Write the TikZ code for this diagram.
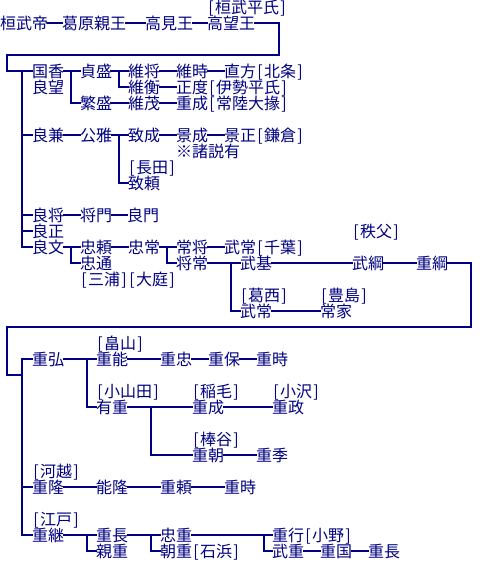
\documentclass[tikz,border=0pt]{standalone}
\usepackage{fontspec}
\setmainfont{Noto Sans CJK JP}
\definecolor{navy}{RGB}{0,0,128}
\newcommand{\LB}{\makebox[8pt][c]{[}}
\newcommand{\RB}{\makebox[8pt][c]{]}}
\begin{document}
\begin{tikzpicture}[x=1pt,y=-1pt,
  n/.style={anchor=west, inner sep=0pt, text height=14pt, text depth=2pt,
    text=navy, font=\fontsize{16pt}{16pt}\selectfont},
  ln/.style={draw=navy, line width=2pt, line join=miter, line cap=rect}]
\useasboundingbox (0,0) rectangle (480,576);
% row 0-1
\node[n] (heishi) at (207,7) {\LB 桓武平氏\RB};
\node[n] (kanmu) at (0,23) {桓武帝};
\node[n] (kazu) at (62,23) {葛原親王};
\node[n] (takami) at (145,23) {高見王};
\node[n] (takamochi) at (207,23) {高望王};
% 国香 line
\node[n] (kunika) at (32,71) {国香};
\node[n] (sadamori) at (80,71) {貞盛};
\node[n] (koremasa) at (128,71) {維将};
\node[n] (koretoki) at (176,71) {維時};
\node[n] (naokata) at (224,71) {直方\LB 北条\RB};
\node[n] (yoshimochi) at (32,87) {良望};
\node[n] (korehira) at (128,87) {維衡};
\node[n] (masanori) at (176,87) {正度\LB 伊勢平氏\RB};
\node[n] (shigemori) at (80,103) {繁盛};
\node[n] (koremochi) at (128,103) {維茂};
\node[n] (shigenari) at (176,103) {重成\LB 常陸大掾\RB};
% 良兼 line
\node[n] (yoshikane) at (32,135) {良兼};
\node[n] (kinmasa) at (80,135) {公雅};
\node[n] (munenari) at (128,135) {致成};
\node[n] (kagenari) at (176,135) {景成};
\node[n] (kagemasa) at (224,135) {景正\LB 鎌倉\RB};
\node[n] (note) at (176,151) {※諸説有};
\node[n] (osada) at (128,167) {\LB 長田\RB};
\node[n] (muneyori) at (128,183) {致頼};
% 良将 / 良正 / 良文
\node[n] (yoshimasa) at (32,215) {良将};
\node[n] (masakado) at (80,215) {将門};
\node[n] (yoshikado) at (127,215) {良門};
\node[n] (yoshimasa2) at (32,231) {良正};
\node[n] (chichibu) at (352,231) {\LB 秩父\RB};
\node[n] (yoshifumi) at (32,247) {良文};
\node[n] (tadayori) at (80,247) {忠頼};
\node[n] (tadatsune) at (128,247) {忠常};
\node[n] (tsunemasa) at (176,247) {常将};
\node[n] (takechiba) at (224,247) {武常\LB 千葉\RB};
\node[n] (tadamichi) at (80,263) {忠通};
\node[n] (masatsune) at (176,263) {将常};
\node[n] (takemoto) at (240,263) {武基};
\node[n] (taketsuna) at (352,263) {武綱};
\node[n] (shigetsuna) at (416,263) {重綱};
\node[n] (miura) at (80,279) {\LB 三浦\RB\LB 大庭\RB};
\node[n] (kasai) at (240,295) {\LB 葛西\RB};
\node[n] (toshima) at (320,295) {\LB 豊島\RB};
\node[n] (taketsune) at (240,311) {武常};
\node[n] (tsuneie) at (320,311) {常家};
% lower part
\node[n] (hatakeyama) at (96,343) {\LB 畠山\RB};
\node[n] (shigehiro) at (32,359) {重弘};
\node[n] (shigeyoshi) at (96,359) {重能};
\node[n] (shigetada) at (160,359) {重忠};
\node[n] (shigeyasu) at (208,359) {重保};
\node[n] (shigetoki) at (256,359) {重時};
\node[n] (oyamada) at (96,391) {\LB 小山田\RB};
\node[n] (inage) at (192,391) {\LB 稲毛\RB};
\node[n] (ozawa) at (272,391) {\LB 小沢\RB};
\node[n] (arishige) at (96,407) {有重};
\node[n] (shigenari2) at (192,407) {重成};
\node[n] (shigemasa) at (272,407) {重政};
\node[n] (hataya) at (192,439) {\LB 棒谷\RB};
\node[n] (shigetomo) at (192,455) {重朝};
\node[n] (shigesue) at (256,455) {重季};
\node[n] (kawagoe) at (32,471) {\LB 河越\RB};
\node[n] (shigetaka) at (32,487) {重隆};
\node[n] (yoshitaka) at (96,487) {能隆};
\node[n] (shigeyori) at (160,487) {重頼};
\node[n] (shigetoki2) at (224,487) {重時};
\node[n] (edo) at (32,519) {\LB 江戸\RB};
\node[n] (shigetsugu) at (32,535) {重継};
\node[n] (shigenaga) at (96,535) {重長};
\node[n] (tadashige) at (160,535) {忠重};
\node[n] (shigeyuki) at (272,535) {重行\LB 小野\RB};
\node[n] (chikashige) at (96,551) {親重};
\node[n] (tomoshige) at (160,551) {朝重\LB 石浜\RB};
\node[n] (takeshige) at (272,551) {武重};
\node[n] (shigekuni) at (320,551) {重国};
\node[n] (shigenaga2) at (368,551) {重長};
% coordinates
\coordinate (f1) at (279,55);
\coordinate (f2) at (7,71);
\coordinate (t1) at (22,71);
\coordinate (f3) at (471,327);
\coordinate (f4) at (7,375);
\coordinate (t2) at (22,375);
% connectors top
\draw[ln] (kanmu) -- (kazu);
\draw[ln] (kazu) -- (takami);
\draw[ln] (takami) -- (takamochi);
\draw[ln] (takamochi.east) -| (f1) -| (f2) -- (kunika.west);
\draw[ln] (t1) |- (yoshifumi.west);
\draw[ln] (t1 |- yoshikane.west) -- (yoshikane.west);
\draw[ln] (t1 |- yoshimasa.west) -- (yoshimasa.west);
\draw[ln] (t1 |- yoshimasa2.west) -- (yoshimasa2.west);
% 国香
\draw[ln] (kunika.east) -- (sadamori.west);
\draw[ln] ([xshift=7pt]kunika.east) |- (shigemori.west);
\draw[ln] (sadamori.east) -- (koremasa.west);
\draw[ln] ([xshift=7pt]sadamori.east) |- (korehira.west);
\draw[ln] (koremasa.east) -- (koretoki.west);
\draw[ln] (koretoki.east) -- (naokata.west);
\draw[ln] (korehira.east) -- (masanori.west);
\draw[ln] (shigemori.east) -- (koremochi.west);
\draw[ln] (koremochi.east) -- (shigenari.west);
% 良兼
\draw[ln] (yoshikane.east) -- (kinmasa.west);
\draw[ln] (kinmasa.east) -- (munenari.west);
\draw[ln] ([xshift=7pt]kinmasa.east) |- (muneyori.west);
\draw[ln] (munenari.east) -- (kagenari.west);
\draw[ln] (kagenari.east) -- (kagemasa.west);
% 良将
\draw[ln] (yoshimasa.east) -- (masakado.west);
\draw[ln] (masakado.east) -- (yoshikado.west);
% 良文
\draw[ln] (yoshifumi.east) -- (tadayori.west);
\draw[ln] ([xshift=7pt]yoshifumi.east) |- (tadamichi.west);
\draw[ln] (tadayori.east) -- (tadatsune.west);
\draw[ln] (tadatsune.east) -- (tsunemasa.west);
\draw[ln] ([xshift=7pt]tadatsune.east) |- (masatsune.west);
\draw[ln] (tsunemasa.east) -- (takechiba.west);
\draw[ln] (masatsune.east) -- (takemoto.west);
\draw[ln] ([xshift=23pt]masatsune.east) |- (taketsune.west);
\draw[ln] (takemoto.east) -- (taketsuna.west);
\draw[ln] (taketsuna.east) -- (shigetsuna.west);
\draw[ln] (taketsune.east) -- (tsuneie.west);
% frame 2
\draw[ln] (shigetsuna.east) -| (f3) -| (f4) -- (t2);
\draw[ln] (shigehiro.west) -| (t2) |- (shigetsugu.west);
\draw[ln] (t2 |- shigetaka.west) -- (shigetaka.west);
% 重弘
\draw[ln] (shigehiro.east) -- (shigeyoshi.west);
\draw[ln] ([xshift=23pt]shigehiro.east) |- (arishige.west);
\draw[ln] (shigeyoshi.east) -- (shigetada.west);
\draw[ln] (shigetada.east) -- (shigeyasu.west);
\draw[ln] (shigeyasu.east) -- (shigetoki.west);
\draw[ln] (arishige.east) -- (shigenari2.west);
\draw[ln] ([xshift=23pt]arishige.east) |- (shigetomo.west);
\draw[ln] (shigenari2.east) -- (shigemasa.west);
\draw[ln] (shigetomo.east) -- (shigesue.west);
% 重隆
\draw[ln] (shigetaka.east) -- (yoshitaka.west);
\draw[ln] (yoshitaka.east) -- (shigeyori.west);
\draw[ln] (shigeyori.east) -- (shigetoki2.west);
% 重継
\draw[ln] (shigetsugu.east) -- (shigenaga.west);
\draw[ln] ([xshift=23pt]shigetsugu.east) |- (chikashige.west);
\draw[ln] (shigenaga.east) -- (tadashige.west);
\draw[ln] ([xshift=23pt]shigenaga.east) |- (tomoshige.west);
\draw[ln] (tadashige.east) -- (shigeyuki.west);
\draw[ln] ([xshift=72pt]tadashige.east) |- (takeshige.west);
\draw[ln] (takeshige.east) -- (shigekuni.west);
\draw[ln] (shigekuni.east) -- (shigenaga2.west);
\end{tikzpicture}
\end{document}
